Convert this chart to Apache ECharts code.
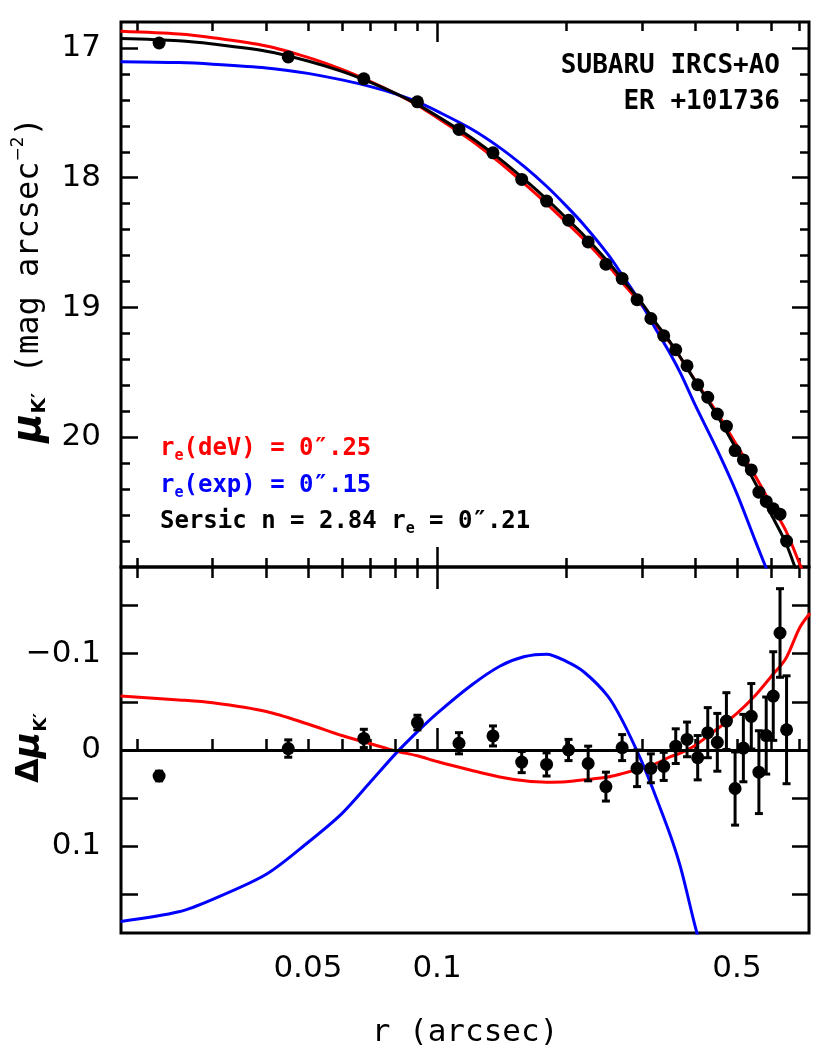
<!DOCTYPE html>
<html>
<head>
<meta charset="utf-8">
<script src="https://cdn.jsdelivr.net/npm/echarts@6/dist/echarts.min.js"></script>
<style>
  html, body { margin: 0; padding: 0; background: #fff; }
  #chart { width: 830px; height: 1054px; }
</style>
</head>
<body>
<div id="chart"></div>
<script>
// observed profile (one ring per 0.0225" pixel)
const radius = [0.0225, 0.045, 0.0675, 0.09, 0.1125, 0.135, 0.1575, 0.18, 0.2025, 0.225,
  0.2475, 0.27, 0.2925, 0.315, 0.3375, 0.36, 0.3825, 0.405, 0.4275, 0.45,
  0.4725, 0.495, 0.5175, 0.54, 0.5625, 0.585, 0.6075, 0.63, 0.6525];
const muObs = [16.962, 17.069, 17.238, 17.415, 17.628, 17.808, 18.013, 18.18, 18.328, 18.495,
  18.667, 18.777, 18.94, 19.085, 19.218, 19.326, 19.449, 19.595, 19.692, 19.821,
  19.915, 20.103, 20.175, 20.252, 20.423, 20.495, 20.552, 20.593, 20.8];
// residuals wrt the Sersic fit
const residual = [0.027, -0.0015, -0.012, -0.0285, -0.007, -0.0146, 0.0125, 0.015, 0.0, 0.014,
  0.038, -0.0025, 0.019, 0.019, 0.017, -0.004, -0.011, 0.008, -0.018, -0.008,
  -0.030, 0.040, -0.002, -0.035, 0.023, -0.015, -0.056, -0.1215, -0.021];
const residualErr = [0.005, 0.009, 0.0095, 0.0076, 0.011, 0.0104, 0.011, 0.012, 0.011, 0.018,
  0.015, 0.0135, 0.019, 0.015, 0.0146, 0.018, 0.018, 0.023, 0.026, 0.030,
  0.0295, 0.038, 0.035, 0.034, 0.043, 0.040, 0.046, 0.046, 0.056];

// model curves
const modelRadius = [0.0183, 0.025, 0.03, 0.04, 0.05, 0.06, 0.07, 0.08, 0.09, 0.1,
  0.12, 0.14, 0.16, 0.18, 0.2, 0.22, 0.25, 0.27, 0.3, 0.32, 0.35, 0.37, 0.4, 0.45,
  0.5, 0.55, 0.6, 0.65, 0.7, 0.74];
const muSersic = [16.928, 16.945, 16.97, 17.025, 17.10, 17.18, 17.265, 17.35, 17.435, 17.525,
  17.69, 17.855, 18.015, 18.165, 18.31, 18.445, 18.645, 18.78, 18.965, 19.097, 19.27, 19.389,
  19.57, 19.835, 20.10, 20.345, 20.59, 20.815, 21.1, 21.3];
const muDeV = [16.872, 16.893, 16.921, 16.985, 17.073, 17.165, 17.259, 17.351, 17.441, 17.537,
  17.711, 17.883, 18.047, 18.199, 18.343, 18.476, 18.673, 18.805, 18.984, 19.112, 19.277, 19.392,
  19.565, 19.814, 20.064, 20.291, 20.516, 20.72, 20.975, 21.16];
const muExp = [17.106, 17.113, 17.125, 17.154, 17.196, 17.246, 17.298, 17.354, 17.416, 17.487,
  17.623, 17.768, 17.917, 18.066, 18.217, 18.364, 18.589, 18.749, 18.977, 19.14, 19.36, 19.512,
  19.755, 20.10, 20.436, 20.787, 21.1];
const dDeV = [-0.056, -0.052, -0.049, -0.040, -0.027, -0.015, -0.0065, 0.001, 0.006, 0.012,
  0.021, 0.028, 0.032, 0.0335, 0.033, 0.031, 0.028, 0.0245, 0.019, 0.015, 0.007, 0.003,
  -0.005, -0.022, -0.038, -0.056, -0.076, -0.095, -0.127, -0.142];
const dExp = [0.178, 0.168, 0.155, 0.129, 0.096, 0.066, 0.033, 0.004, -0.019, -0.038,
  -0.067, -0.087, -0.097, -0.0995, -0.092, -0.081, -0.056, -0.031, 0.012, 0.043, 0.089, 0.123,
  0.184, 0.27];

// axes
const rRange = [0.01834, 0.736];
const rMajorTicks = [0.1];
const rMinorTicks = [0.02, 0.03, 0.04, 0.05, 0.06, 0.07, 0.08, 0.09, 0.2, 0.3, 0.4, 0.5, 0.6, 0.7];
const rLabels = [0.05, 0.1, 0.5];
const muRange = [16.8, 21.0];
const muLabels = [17, 18, 19, 20];
const muMinorTicks = [17.2, 17.4, 17.6, 17.8, 18.2, 18.4, 18.6, 18.8, 19.2, 19.4, 19.6, 19.8,
  20.2, 20.4, 20.6, 20.8];
const dRange = [-0.19, 0.19];
const dTicks = [-0.15, -0.1, -0.05, 0, 0.05, 0.1, 0.15];
const dLabels = [-0.1, 0, 0.1];

const BLACK = '#000';
const RED = '#ff0000';
const BLUE = '#0000ff';
const labelFont = { color: BLACK, fontSize: 31, fontFamily: 'DejaVu Sans' };

function pairs(xs, ys) {
  return ys.map((y, i) => [xs[i], y]);
}

function rAxis(grid, pos, ticks, len, labels) {
  return {
    type: 'log', logBase: 10, gridIndex: grid, position: pos,
    min: rRange[0], max: rRange[1],
    axisLine: { show: false },
    axisTick: { show: true, inside: true, length: len, customValues: ticks,
      lineStyle: { color: BLACK, width: 2.5 } },
    axisLabel: labels ? Object.assign({ show: true, customValues: labels, margin: 20,
      formatter: v => String(+(+v).toPrecision(3)) }, labelFont) : { show: false },
    splitLine: { show: false }
  };
}

function valAxis(grid, pos, range, ticks, len, labels, fmt) {
  return {
    type: 'value', gridIndex: grid, position: pos, inverse: true,
    min: range[0], max: range[1],
    axisLine: { show: false },
    axisTick: { show: true, inside: true, length: len, customValues: ticks,
      lineStyle: { color: BLACK, width: 2.5 } },
    axisLabel: labels ? Object.assign({ show: true, customValues: labels, margin: 20,
      formatter: fmt }, labelFont) : { show: false },
    splitLine: { show: false }
  };
}

const minusFmt = v => (v < 0 ? '\u2212' + String(-v) : String(v));

const chart = echarts.init(document.getElementById('chart'), null, { renderer: 'canvas' });

const monoBold = sz => 'bold ' + sz + 'px "DejaVu Sans Mono"';

function note(y, color, pre, post) {
  return {
    type: 'text', x: 160, y: y, z: 10,
    style: {
      text: '{t|' + pre + '}{s|e}{t|' + post + '}',
      verticalAlign: 'middle', align: 'left',
      rich: {
        t: { font: monoBold(24), fill: color, lineHeight: 30 },
        s: { font: monoBold(15), fill: color, lineHeight: 12, verticalAlign: 'bottom' }
      }
    }
  };
}

function curve(xi, yi, data, color, width, z) {
  return { type: 'line', xAxisIndex: xi, yAxisIndex: yi, data: data, smooth: 0.3,
    showSymbol: false, lineStyle: { color: color, width: width }, z: z };
}

chart.setOption({
  animation: false,
  backgroundColor: '#fff',
  grid: [
    { left: 121, top: 22, width: 688, height: 545, show: true, borderColor: BLACK,
      borderWidth: 3, backgroundColor: 'transparent', outerBoundsMode: 'none' },
    { left: 121, top: 567, width: 688, height: 366, show: true, borderColor: BLACK,
      borderWidth: 3, backgroundColor: 'transparent', outerBoundsMode: 'none' }
  ],
  xAxis: [
    rAxis(0, 'bottom', rMajorTicks, 20, null),
    rAxis(0, 'bottom', rMinorTicks, 9, null),
    rAxis(0, 'top', rMajorTicks, 20, null),
    rAxis(0, 'top', rMinorTicks, 9, null),
    rAxis(1, 'bottom', rMajorTicks, 22, rLabels),
    rAxis(1, 'bottom', rMinorTicks, 11, null),
    rAxis(1, 'top', rMajorTicks, 22, null),
    rAxis(1, 'top', rMinorTicks, 11, null)
  ],
  yAxis: [
    valAxis(0, 'left', muRange, muLabels, 17, muLabels, v => String(v)),
    valAxis(0, 'left', muRange, muMinorTicks, 9, null),
    valAxis(0, 'right', muRange, muLabels, 17, null),
    valAxis(0, 'right', muRange, muMinorTicks, 9, null),
    valAxis(1, 'left', dRange, dTicks, 17, dLabels, minusFmt),
    valAxis(1, 'right', dRange, dTicks, 17, null)
  ],
  series: [
    // top panel
    curve(0, 0, pairs(modelRadius, muDeV), RED, 3, 2),
    curve(0, 0, pairs(modelRadius, muExp), BLUE, 3, 3),
    curve(0, 0, pairs(modelRadius, muSersic), BLACK, 3, 4),
    { type: 'scatter', xAxisIndex: 0, yAxisIndex: 0, data: pairs(radius, muObs),
      symbol: 'circle', symbolSize: 13, itemStyle: { color: BLACK, opacity: 1 }, z: 5 },
    // bottom panel
    Object.assign(curve(4, 4, pairs(modelRadius, dDeV), RED, 3, 3), {
      markLine: { silent: true, symbol: 'none', label: { show: false },
        lineStyle: { color: BLACK, type: 'solid', width: 3 }, data: [{ yAxis: 0 }] } }),
    curve(4, 4, pairs(modelRadius, dExp), BLUE, 3, 3),
    { type: 'custom', xAxisIndex: 4, yAxisIndex: 4, z: 4,
      data: radius.map((r, i) => [r, residual[i], residualErr[i]]),
      encode: { x: 0, y: 1 },
      renderItem: function (params, api) {
        const r = api.value(0), d = api.value(1), e = api.value(2);
        const a = api.coord([r, d - e]);
        const b = api.coord([r, d + e]);
        const st = { stroke: BLACK, lineWidth: 3 };
        return { type: 'group', children: [
          { type: 'line', shape: { x1: a[0], y1: a[1], x2: b[0], y2: b[1] }, style: st },
          { type: 'line', shape: { x1: a[0] - 4, y1: a[1], x2: a[0] + 4, y2: a[1] }, style: st },
          { type: 'line', shape: { x1: b[0] - 4, y1: b[1], x2: b[0] + 4, y2: b[1] }, style: st }
        ] };
      } },
    { type: 'scatter', xAxisIndex: 4, yAxisIndex: 4, data: pairs(radius, residual),
      symbol: 'circle', symbolSize: 13, itemStyle: { color: BLACK, opacity: 1 }, z: 5 }
  ],
  graphic: [
    { type: 'text', x: 780, y: 66, style: { text: 'SUBARU IRCS+AO', font: monoBold(26),
      fill: BLACK, align: 'right', verticalAlign: 'middle' } },
    { type: 'text', x: 780, y: 102, style: { text: 'ER +101736', font: monoBold(26),
      fill: BLACK, align: 'right', verticalAlign: 'middle' } },
    note(449, RED, 'r', '(deV) = 0\u2033.25'),
    note(486, BLUE, 'r', '(exp) = 0\u2033.15'),
    {
      type: 'text', x: 160, y: 522,
      style: {
        text: '{t|Sersic n = 2.84 r}{s|e}{t| = 0\u2033.21}',
        verticalAlign: 'middle', align: 'left',
        rich: {
          t: { font: monoBold(24), fill: BLACK, lineHeight: 30 },
          s: { font: monoBold(15), fill: BLACK, lineHeight: 12, verticalAlign: 'bottom' }
        }
      }
    },
    { type: 'text', x: 465, y: 1033, style: { text: 'r (arcsec)',
      font: '31px "DejaVu Sans Mono"', fill: BLACK, align: 'center', verticalAlign: 'middle' } },
    {
      type: 'text', x: 30, y: 280, rotation: Math.PI / 2,
      style: {
        text: '{mu|\u03bc}{sub|K\u2032}{t| (mag arcsec}{sup|\u22122}{t|)}',
        align: 'center', verticalAlign: 'middle',
        rich: {
          mu: { font: 'bold italic 40px "DejaVu Sans"', fill: BLACK, lineHeight: 40 },
          sub: { font: 'bold 20px "DejaVu Sans"', fill: BLACK, lineHeight: 18, verticalAlign: 'bottom' },
          t: { font: '32px "DejaVu Sans Mono"', fill: BLACK, lineHeight: 40 },
          sup: { font: '17px "DejaVu Sans"', fill: BLACK, lineHeight: 16, verticalAlign: 'top' }
        }
      }
    },
    {
      type: 'text', x: 30, y: 748, rotation: Math.PI / 2,
      style: {
        text: '{d|\u0394}{mu|\u03bc}{sub|K\u2032}',
        align: 'center', verticalAlign: 'middle',
        rich: {
          d: { font: 'bold 32px "DejaVu Sans"', fill: BLACK, lineHeight: 40 },
          mu: { font: 'bold italic 36px "DejaVu Sans"', fill: BLACK, lineHeight: 40 },
          sub: { font: 'bold 18px "DejaVu Sans"', fill: BLACK, lineHeight: 16, verticalAlign: 'bottom' }
        }
      }
    }
  ]
});
</script>
</body>
</html>
